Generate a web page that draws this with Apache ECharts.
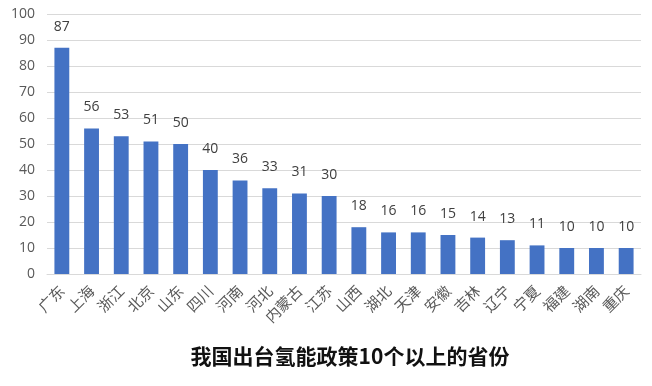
<!DOCTYPE html>
<html><head><meta charset="utf-8">
<script src="https://cdn.jsdelivr.net/npm/echarts@6/dist/echarts.min.js"></script>
<style>html,body{margin:0;padding:0;background:#fff}#c{width:652px;height:386px}</style>
</head><body><div id="c"></div>
<script>
const categories = ["广东","上海","浙江","北京","山东","四川","河南","河北","内蒙古","江苏","山西","湖北","天津","安徽","吉林","辽宁","宁夏","福建","湖南","重庆"];
const values = [87,56,53,51,50,40,36,33,31,30,18,16,16,15,14,13,11,10,10,10];
const yTicks = [0,10,20,30,40,50,60,70,80,90,100];
const titleText = "我国出台氢能政策10个以上的省份";

const chart = echarts.init(document.getElementById('c'));
chart.setOption({
  animation: false,
  title: {
    text: titleText, left: 345, top: 341, textAlign: 'center',
    textStyle: {fontFamily: '"Noto Sans CJK SC"', fontWeight: 'bold', fontSize: 21, color: '#111'}
  },
  grid: {left: 47, right: 11, top: 14, bottom: 112},
  xAxis: {
    type: 'category', data: categories,
    axisLine: {lineStyle: {color: '#d9d9d9'}},
    axisTick: {show: false},
    axisLabel: {rotate: 45, interval: 0, color: '#595959', fontSize: 15, margin: 14,
      fontFamily: '"Noto Sans CJK SC"'}
  },
  yAxis: {
    type: 'value', min: yTicks[0], max: yTicks[yTicks.length-1], interval: 10,
    axisLine: {show: false}, axisTick: {show: false},
    axisLabel: {color: '#595959', fontSize: 14, margin: 12, fontFamily: '"Open Sans", sans-serif'},
    splitLine: {lineStyle: {color: '#d9d9d9'}}
  },
  series: [{
    type: 'bar', data: values, barWidth: '50%',
    itemStyle: {color: '#4472C4'},
    label: {show: true, position: 'top', distance: 14, color: '#404040', fontSize: 14,
      fontFamily: '"Open Sans", sans-serif'}
  }]
});
</script></body></html>
